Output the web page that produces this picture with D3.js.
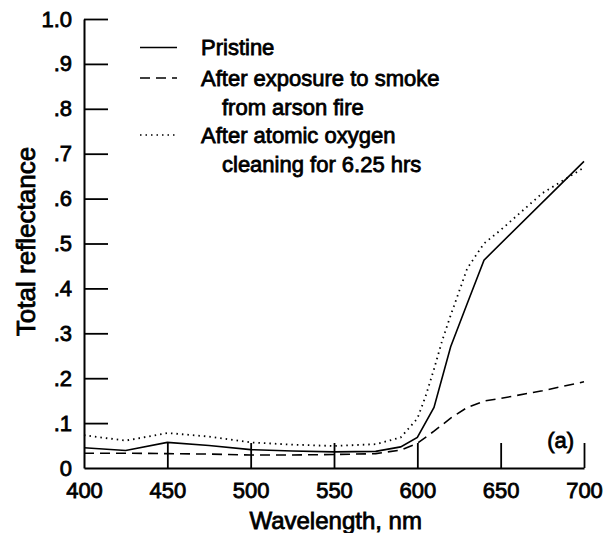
<!DOCTYPE html>
<html>
<head>
<meta charset="utf-8">
<script src="https://cdn.jsdelivr.net/npm/d3@7"></script>
<style>
  body { margin: 0; background: #fff; }
  text { font-family: "Liberation Sans", Arial, sans-serif; fill: #000; stroke: #000; stroke-width: 0.8px; }
</style>
</head>
<body>
<div id="chart"></div>
<script>
// wavelength sample points and reflectance curves
var pristineNm  = [400, 425, 450, 475, 500, 525, 550, 575, 590, 600, 610, 620, 630, 640, 700];
var pristineVal = [0.045, 0.039, 0.057, 0.050, 0.041, 0.038, 0.036, 0.037, 0.047, 0.068, 0.135, 0.27, 0.367, 0.463, 0.683];

var smokeNm  = [400, 425, 450, 475, 500, 525, 550, 575, 590, 600, 610, 620, 630, 640, 650, 675, 700];
var smokeVal = [0.033, 0.033, 0.032, 0.031, 0.029, 0.029, 0.030, 0.032, 0.040, 0.055, 0.082, 0.111, 0.135, 0.149, 0.155, 0.172, 0.192];

var cleanNm  = [400, 425, 450, 475, 500, 525, 550, 575, 590, 600, 605, 610, 615, 620, 630, 640, 650, 675, 700];
var cleanVal = [0.073, 0.061, 0.078, 0.070, 0.057, 0.052, 0.049, 0.053, 0.068, 0.11, 0.16, 0.22, 0.285, 0.34, 0.445, 0.50, 0.53, 0.612, 0.669];

var xTicks = [400, 450, 500, 550, 600, 650, 700];
var yTicks = [0, 0.1, 0.2, 0.3, 0.4, 0.5, 0.6, 0.7, 0.8, 0.9, 1.0];
var yTickLabels = ["0", ".1", ".2", ".3", ".4", ".5", ".6", ".7", ".8", ".9", "1.0"];

var legendLabels = [["Pristine"], ["After exposure to smoke", "from arson fire"], ["After atomic oxygen", "cleaning for 6.25 hrs"]];
var dashes = [null, "10,6", "1.5,4"];

var margin = {top: 19, right: 24, bottom: 65, left: 84},
    width = 608 - margin.left - margin.right,
    height = 533 - margin.top - margin.bottom;

var svg = d3.select("#chart")
  .append("svg")
    .attr("width", 608)
    .attr("height", 533)
  .append("g")
    .attr("transform", "translate(" + margin.left + "," + margin.top + ")");

var x = d3.scaleLinear().domain([400, 700]).range([0, width]);
var y = d3.scaleLinear().domain([0, 1]).range([height, 0]);

// Y axis, ticks pointing inward
var yAxis = svg.append("g")
  .call(d3.axisLeft(y)
    .tickValues(yTicks)
    .tickSizeInner(-24)
    .tickSizeOuter(0)
    .tickPadding(12)
    .tickFormat(function(d, i) { return yTickLabels[i]; }));
yAxis.selectAll("text").style("font-size", "22px");

// X axis, ticks pointing up
var xAxis = svg.append("g")
  .attr("transform", "translate(0," + height + ")")
  .call(d3.axisBottom(x)
    .tickValues(xTicks)
    .tickSizeInner(-25)
    .tickSizeOuter(0)
    .tickPadding(14)
    .tickFormat(d3.format("d")));
xAxis.selectAll("text").style("font-size", "22px");

svg.selectAll(".domain").attr("stroke-width", 2);
svg.selectAll(".tick line").attr("stroke-width", 1.8);
svg.selectAll(".tick").filter(function(d) { return d === 0 || d === 400; }).select("line").remove();

// axis titles
svg.append("text")
  .attr("transform", "rotate(-90)")
  .attr("x", -y(0.5) + 2)
  .attr("y", -49)
  .attr("text-anchor", "middle")
  .style("font-size", "26px")
  .text("Total reflectance");

svg.append("text")
  .attr("x", x(551))
  .attr("y", height + 61)
  .attr("text-anchor", "middle")
  .style("font-size", "24px")
  .text("Wavelength, nm");

svg.append("text")
  .attr("x", x(686))
  .attr("y", y(0.045))
  .attr("text-anchor", "middle")
  .style("font-size", "22px")
  .text("(a)");

// curves
var line = d3.line()
  .x(function(d) { return x(d[0]); })
  .y(function(d) { return y(d[1]); });

var series = [
  d3.zip(pristineNm, pristineVal),
  d3.zip(smokeNm, smokeVal),
  d3.zip(cleanNm, cleanVal)
];

svg.selectAll("mycurve")
  .data(series)
  .enter()
  .append("path")
    .attr("d", line)
    .attr("fill", "none")
    .attr("stroke", "black")
    .attr("stroke-width", function(d, i) { return i === 2 ? 1.8 : 1.6; })
    .attr("stroke-dasharray", function(d, i) { return dashes[i]; });

// legend
var legendY = [28.5, 59, 116];
var legend = svg.selectAll("mylegend")
  .data(legendLabels)
  .enter()
  .append("g")
    .attr("transform", function(d, i) { return "translate(56," + legendY[i] + ")"; });

legend.append("line")
  .attr("x1", 0)
  .attr("x2", 37)
  .attr("stroke", "black")
  .attr("stroke-width", 1.5)
  .attr("stroke-dasharray", function(d, i) { return dashes[i]; });

legend.selectAll("text")
  .data(function(d) { return d; })
  .enter()
  .append("text")
    .attr("x", function(d, j) { return j === 0 ? 61 : 82; })
    .attr("y", function(d, j) { return 7.5 + j * 29; })
    .style("font-size", "22px")
    .text(function(d) { return d; });
</script>
</body>
</html>
